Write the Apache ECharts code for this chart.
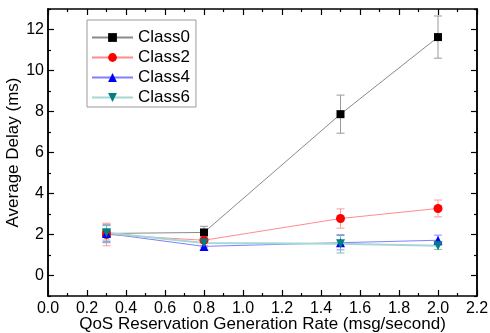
<!DOCTYPE html>
<html>
<head>
<meta charset="utf-8">
<script src="https://cdn.jsdelivr.net/npm/echarts@6/dist/echarts.min.js"></script>
<style>
  html, body { margin: 0; padding: 0; background: #fff; }
  #chart { width: 490px; height: 333px; }
</style>
</head>
<body>
<div id="chart"></div>
<script>
// values
const rates = [0.3, 0.8, 1.5, 2.0]
const classNames = ['Class0', 'Class2', 'Class4', 'Class6']
const class0 = [2.05, 2.1, 7.87, 11.63]
const class0Err = [0.45, 0.3, 0.93, 1.03]
const class2 = [2.0, 1.72, 2.78, 3.27]
const class2Err = [0.55, 0.25, 0.47, 0.41]
const class4 = [2.05, 1.42, 1.6, 1.72]
const class4Err = [0.4, 0.2, 0.35, 0.25]
const class6 = [2.08, 1.58, 1.55, 1.45]
const class6Err = [0.35, 0.2, 0.45, 0.18]
const yMajorTicks = [0, 2, 4, 6, 8, 10, 12]
const yMinorTicks = [-1, 1, 3, 5, 7, 9, 11, 13]

const FONT = '"Liberation Sans", Arial, sans-serif'

const styles = [
  { symbol: 'rect', size: 8, rotate: 0, mark: '#000000', line: '#8a8a8a', lineWidth: 1, err: '#9a9a9a' },
  { symbol: 'circle', size: 9, rotate: 0, mark: '#ff0000', line: '#ff8c8c', lineWidth: 1, err: '#ff9a9a' },
  { symbol: 'triangle', size: 9, rotate: 0, mark: '#0000ff', line: '#8080ff', lineWidth: 1, err: '#8c8cff' },
  { symbol: 'triangle', size: 9, rotate: 180, mark: '#008080', line: '#a6d6d6', lineWidth: 2, err: '#7fbcbc' }
]
const values = [class0, class2, class4, class6]
const errors = [class0Err, class2Err, class4Err, class6Err]

function errorBarSeries(i) {
  const st = styles[i]
  return {
    type: 'custom',
    name: classNames[i] + ' err',
    xAxisIndex: 0,
    yAxisIndex: 0,
    z: 1,
    silent: true,
    encode: { x: 0, y: [1, 2] },
    data: rates.map((x, k) => [x, values[i][k] - errors[i][k], values[i][k] + errors[i][k]]),
    renderItem(params, api) {
      const top = api.coord([api.value(0), api.value(2)])
      const bot = api.coord([api.value(0), api.value(1)])
      const hw = 4
      const style = { stroke: st.err, lineWidth: 1 }
      return {
        type: 'group',
        children: [
          { type: 'line', shape: { x1: top[0], y1: top[1], x2: bot[0], y2: bot[1] }, style },
          { type: 'line', shape: { x1: top[0] - hw, y1: top[1], x2: top[0] + hw, y2: top[1] }, style },
          { type: 'line', shape: { x1: bot[0] - hw, y1: bot[1], x2: bot[0] + hw, y2: bot[1] }, style }
        ]
      }
    }
  }
}

function lineSeries(i) {
  const st = styles[i]
  return {
    type: 'line',
    name: classNames[i],
    xAxisIndex: 0,
    yAxisIndex: 0,
    z: 3,
    data: rates.map((x, k) => [x, values[i][k]]),
    symbol: st.symbol,
    symbolSize: st.size,
    symbolRotate: st.rotate,
    showAllSymbol: true,
    itemStyle: { color: st.mark },
    lineStyle: { color: st.line, width: st.lineWidth },
    emphasis: { disabled: true }
  }
}

const axisLine = { show: true, onZero: false, lineStyle: { color: '#000', width: 1.5 } }

function xAxis(pos, withLabels) {
  return {
    type: 'value',
    position: pos,
    min: 0,
    max: 2.2,
    interval: 0.2,
    axisLine,
    axisTick: { show: true, inside: true, length: 6, lineStyle: { color: '#000', width: 1.2 } },
    minorTick: { show: true, splitNumber: 2, length: 3, lineStyle: { color: '#000', width: 1.2 } },
    splitLine: { show: false },
    axisLabel: {
      show: withLabels,
      margin: 5,
      color: '#000',
      fontFamily: FONT,
      fontSize: 16,
      formatter: (v) => v.toFixed(1)
    },
    name: withLabels ? 'QoS Reservation Generation Rate (msg/second)' : '',
    nameLocation: 'middle',
    nameGap: 20,
    nameMoveOverlap: false,
    nameTextStyle: { color: '#000', fontFamily: FONT, fontSize: 17 }
  }
}

function yAxis(pos, ticks, len, withLabels) {
  return {
    type: 'value',
    position: pos,
    min: -1,
    max: 13,
    interval: 1,
    axisLine,
    axisTick: { show: true, inside: true, length: len, customValues: ticks, lineStyle: { color: '#000', width: 1.2 } },
    splitLine: { show: false },
    axisLabel: {
      show: withLabels,
      customValues: yMajorTicks,
      margin: 4,
      color: '#000',
      fontFamily: FONT,
      fontSize: 16,
      formatter: (v) => (v >= 0 && v % 2 === 0 ? String(v) : '')
    },
    name: withLabels ? 'Average Delay (ms)' : '',
    nameLocation: 'middle',
    nameGap: 26,
    nameMoveOverlap: false,
    nameTextStyle: { color: '#000', fontFamily: FONT, fontSize: 17 }
  }
}

const chart = echarts.init(document.getElementById('chart'), null, { renderer: 'canvas' })
chart.setOption({
  animation: false,
  backgroundColor: '#fff',
  grid: { left: 48, top: 9, right: 13, bottom: 37, containLabel: false, outerBoundsMode: 'none' },
  legend: {
    data: classNames,
    orient: 'vertical',
    left: 87,
    top: 20,
    itemWidth: 41,
    itemHeight: 11,
    itemGap: 3,
    padding: [9, 6, 1, 4],
    borderColor: '#9a9a9a',
    borderWidth: 1,
    textStyle: { color: '#000', fontFamily: FONT, fontSize: 17 },
    selectedMode: false
  },
  xAxis: [xAxis('bottom', true), xAxis('top', false)],
  yAxis: [
    yAxis('left', yMajorTicks, 6, true),
    yAxis('left', yMinorTicks, 3, false),
    yAxis('right', yMajorTicks, 6, false),
    yAxis('right', yMinorTicks, 3, false)
  ],
  series: [0, 1, 2, 3].map(errorBarSeries).concat([0, 1, 2, 3].map(lineSeries))
})
</script>
</body>
</html>
